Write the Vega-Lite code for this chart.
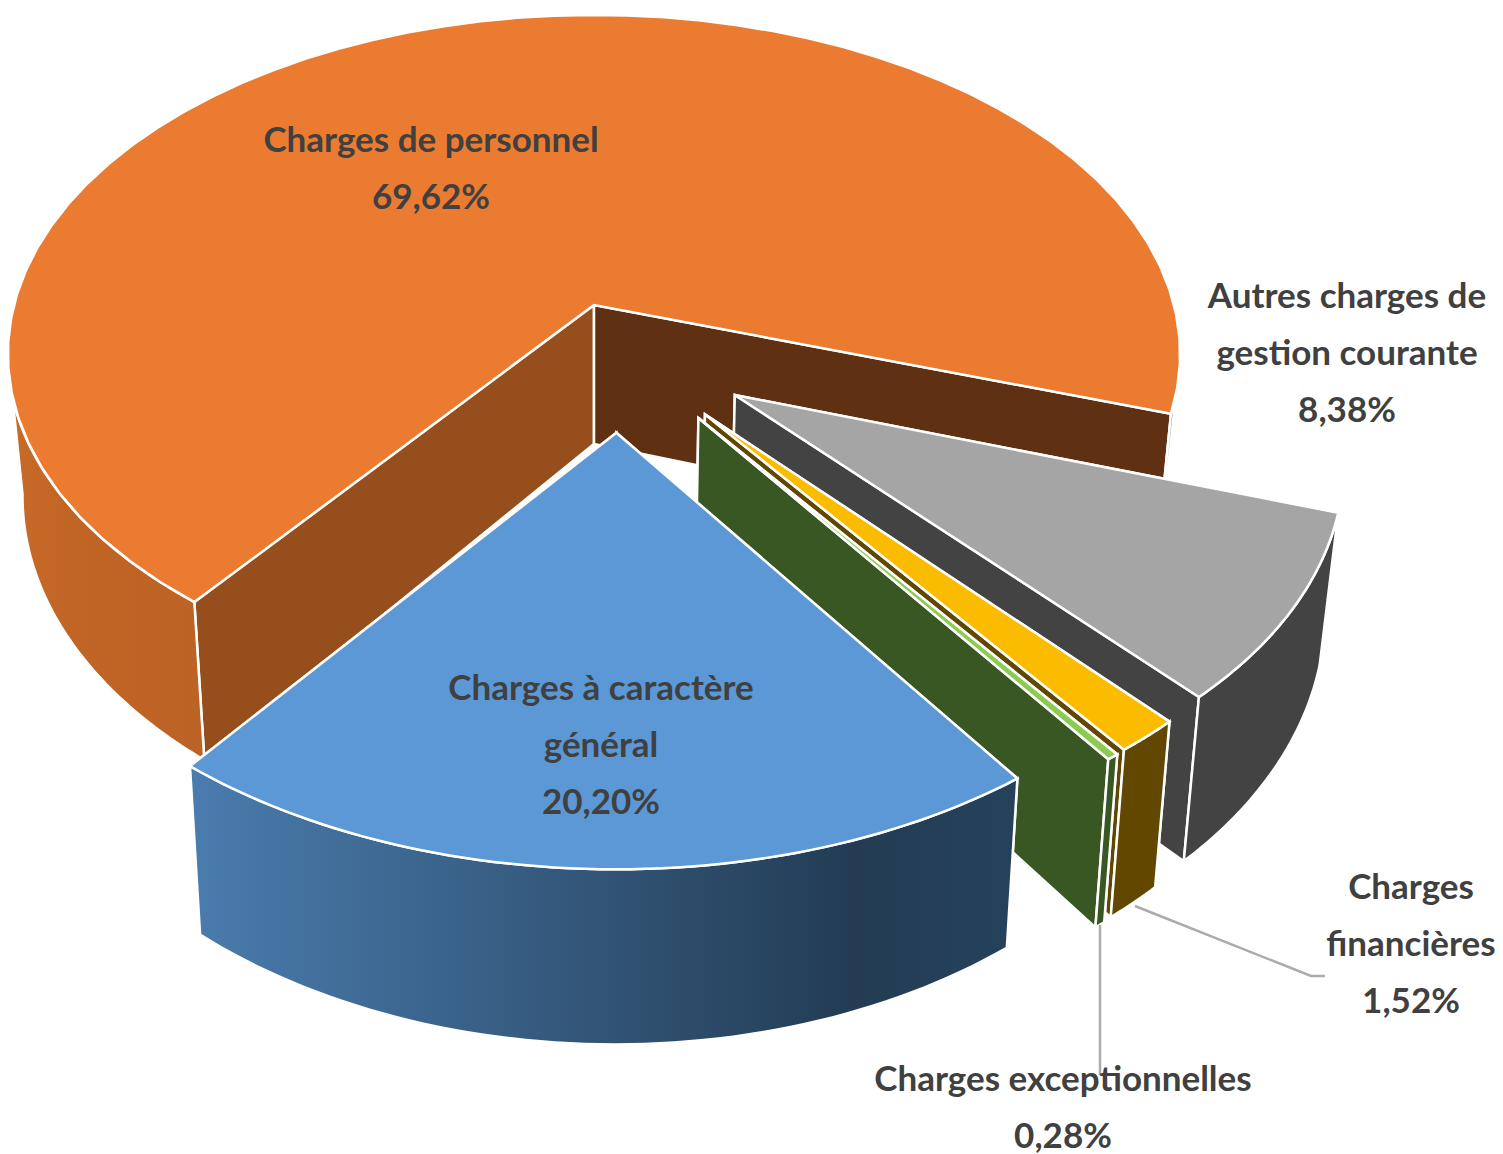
{
"$schema":"https://vega.github.io/schema/vega-lite/v6.json",
"width":1503,"height":1154,"padding":0,"autosize":{"type":"none"},"background":"white",
"config":{"view":{"stroke":null}},
"data":{"values":[
{"poste":"Charges de personnel","part":69.62,"etiquette":"Charges de personnel\n69,62%"},
{"poste":"Autres charges de gestion courante","part":8.38,"etiquette":"Autres charges de\ngestion courante\n8,38%"},
{"poste":"Charges financières","part":1.52,"etiquette":"Charges\nfinancières\n1,52%"},
{"poste":"Charges exceptionnelles","part":0.28,"etiquette":"Charges exceptionnelles\n0,28%"},
{"poste":"Charges à caractère général","part":20.20,"etiquette":"Charges à caractère\ngénéral\n20,20%"}
]},
"transform":[
{"window":[{"op":"sum","field":"part","as":"cumul"}],"frame":[null,0],"ignorePeers":true},
{"calculate":"(-142.4+datum.cumul*3.6)*PI/180","as":"t1"},
{"calculate":"datum.t1-datum.part*3.6*PI/180","as":"t0"},
{"calculate":"datum.part>60?'P':datum.part>5&&datum.part<10?'O':datum.part>1&&datum.part<2?'F':datum.part<1?'E':'C'","as":"id"}
],
"encoding":{
"x":{"field":"px","type":"quantitative","scale":{"domain":[0,1503],"nice":false,"zero":false},"axis":null},
"y":{"field":"py","type":"quantitative","scale":{"domain":[1154,0],"nice":false,"zero":false},"axis":null}
},
"layer":[
{
"transform":[
{"calculate":"datum.id=='P'?0:datum.id=='O'?0.227:datum.id=='F'?0.176:datum.id=='E'?0.165:0.03","as":"du"},
{"calculate":"datum.id=='P'?0:datum.id=='O'?0.261:datum.id=='F'?0.3145:datum.id=='E'?0.3245:0.3645","as":"dv"},
{"calculate":"['A','B','W','X','T']","as":"face"},{"flatten":["face"]},
{"filter":"datum.face!='X'||datum.id=='P'"},
{"calculate":"sequence(0,122)","as":"k"},{"flatten":["k"]},
{"filter":"datum.face=='W'||datum.face=='X'?datum.k<=121:datum.face=='T'?datum.k<=61:datum.k<=3"},
{"calculate":"datum.face=='W'?0:datum.face=='X'?0.959:0","as":"pa"},
{"calculate":"datum.face=='W'&&datum.id=='P'?0.177:1","as":"pb"},
{"calculate":"datum.face=='T'?(datum.k==0?0:1):datum.face=='W'||datum.face=='X'?1:(datum.k==1||datum.k==2?1:0)","as":"r"},
{"calculate":"datum.face=='T'?(datum.k==0?0:(datum.k-1)/60):datum.face=='W'||datum.face=='X'?datum.pa+(datum.pb-datum.pa)*(datum.k<=60?datum.k/60:(121-datum.k)/60):datum.face=='A'?0:1","as":"p"},
{"calculate":"datum.face=='T'?0:datum.face=='W'||datum.face=='X'?(datum.k<=60?0:1):(datum.k>=2?1:0)","as":"z"},
{"calculate":"datum.t0+datum.p*(datum.t1-datum.t0)","as":"a"},
{"calculate":"datum.du+datum.r*sin(datum.a)","as":"u"},
{"calculate":"datum.dv-datum.r*cos(datum.a)","as":"v"},
{"calculate":"1/(1-0.1445*datum.v)","as":"s"},
{"calculate":"594+580*datum.u*datum.s*(datum.z?0.975:1)+(datum.r==0&&datum.id!='P'?4:0)","as":"px"},
{"calculate":"datum.z?444+1.064*332*datum.v*datum.s:305+332*datum.v*datum.s","as":"py"},
{"calculate":"datum.id+datum.face","as":"cle"}
],
"encoding":{
"order":{"field":"k","type":"quantitative"},
"detail":{"field":"cle","type":"nominal"}
},
"layer":[
{"transform":[{"filter":"datum.cle=='PA'||datum.cle=='PB'"}],
"mark":{"type":"line","interpolate":"linear-closed","stroke":"#ffffff","strokeWidth":2.5},
"encoding":{"fill":{"field":"cle","type":"nominal","legend":null,"scale":{"domain":["PA","PB","PX","PT","OA","OB","OW","OT","FA","FB","FW","FT","EA","EB","EW","ET","CA","CB","CT"],"range":["#964F1C","#5F3112","#5F3112","#EA7B30","#434343","#434343","#434343","#A5A5A5","#614700","#614700","#614700","#FBBC00","#385723","#385723","#385723","#8CCB50","#243F58","#243F58","#5B98D5"]}}}},
{"transform":[{"filter":"datum.cle=='PW'"}],
"mark":{"type":"line","interpolate":"linear-closed","stroke":"#ffffff","strokeWidth":2.5,
"fill":{"gradient":"linear","x1":0,"y1":0,"x2":1,"y2":0,"stops":[{"offset":0,"color":"#C96A28"},{"offset":0.3,"color":"#C16526"},{"offset":1,"color":"#BC6225"}]}}},
{"transform":[{"filter":"datum.cle!='PA'&&datum.cle!='PB'&&datum.cle!='PW'&&datum.cle!='CW'&&datum.cle!='CT'"}],
"mark":{"type":"line","interpolate":"linear-closed","stroke":"#ffffff","strokeWidth":2.5},
"encoding":{"fill":{"field":"cle","type":"nominal","legend":null}}},
{"transform":[{"filter":"datum.cle=='CW'"}],
"mark":{"type":"line","interpolate":"linear-closed","stroke":"#ffffff","strokeWidth":2.5,
"fill":{"gradient":"linear","x1":0,"y1":0,"x2":1,"y2":0,"stops":[{"offset":0,"color":"#4A7CAE"},{"offset":0.8,"color":"#233C54"},{"offset":1,"color":"#26425B"}]}}},
{"transform":[{"filter":"datum.cle=='CT'"}],
"mark":{"type":"line","interpolate":"linear-closed","stroke":"#ffffff","strokeWidth":2.5},
"encoding":{"fill":{"field":"cle","type":"nominal","legend":null}}}
]
},
{
"transform":[
{"filter":"datum.id=='F'||datum.id=='E'"},
{"calculate":"[0,1,2]","as":"k"},{"flatten":["k"]},
{"calculate":"datum.id=='F'?(datum.k==0?1135:datum.k==1?1311:1325):1100","as":"px"},
{"calculate":"datum.id=='F'?(datum.k==0?906:976):(datum.k==0?925:1075)","as":"py"}
],
"mark":{"type":"line","stroke":"#ABABAB","strokeWidth":2.5},
"encoding":{
"order":{"field":"k","type":"quantitative"},
"detail":{"field":"id","type":"nominal"}
}
},
{
"transform":[
{"calculate":"datum.id=='P'?431:datum.id=='O'?1347:datum.id=='F'?1411:datum.id=='E'?1063:601","as":"px"},
{"calculate":"datum.id=='P'?141:datum.id=='O'?297:datum.id=='F'?888:datum.id=='E'?1080:689","as":"py"}
],
"mark":{"type":"text","font":"Lato","fontWeight":"bold","fontSize":35,"lineHeight":57,"lineBreak":"\n","align":"center","baseline":"middle","fill":"#404040"},
"encoding":{
"text":{"field":"etiquette","type":"nominal"}
}
}
]
}
